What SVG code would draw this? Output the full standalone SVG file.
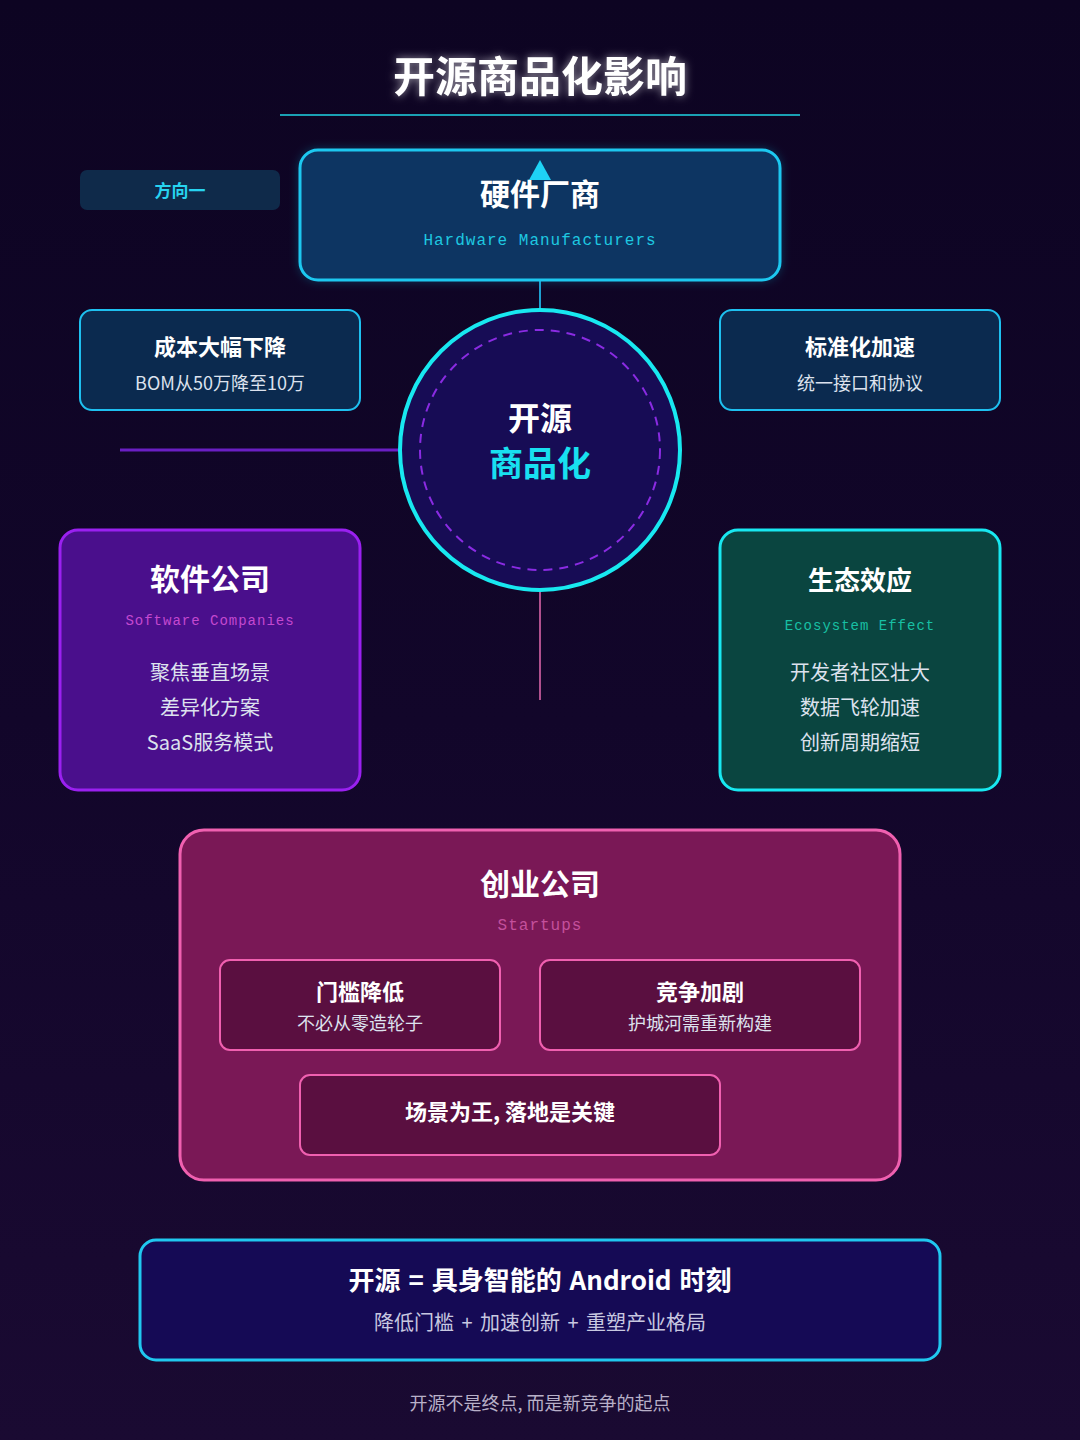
<svg xmlns="http://www.w3.org/2000/svg" width="1080" height="1440" viewBox="0 0 1080 1440">
<defs>
<linearGradient id="bg" x1="0" y1="0" x2="0" y2="1">
<stop offset="0" stop-color="#0d0422"/>
<stop offset="0.5" stop-color="#12062a"/>
<stop offset="1" stop-color="#1a0a32"/>
</linearGradient>
<filter id="glow" x="-20%" y="-50%" width="140%" height="200%">
<feGaussianBlur in="SourceAlpha" stdDeviation="4" result="b"/>
<feFlood flood-color="#ffffff" flood-opacity="0.6"/>
<feComposite in2="b" operator="in" result="g"/>
<feMerge><feMergeNode in="g"/><feMergeNode in="SourceGraphic"/></feMerge>
</filter>
<filter id="soft" x="-10%" y="-10%" width="120%" height="120%">
<feGaussianBlur in="SourceAlpha" stdDeviation="5" result="b"/>
<feFlood flood-color="#20c8f0" flood-opacity="0.25"/>
<feComposite in2="b" operator="in" result="g"/>
<feMerge><feMergeNode in="g"/><feMergeNode in="SourceGraphic"/></feMerge>
</filter>
</defs>
<style>
text{font-family:"Noto Sans CJK SC","Noto Sans",sans-serif;text-anchor:middle}
.h{font-weight:700;fill:#ffffff}
.mono{font-family:"Liberation Mono","DejaVu Sans Mono",monospace;letter-spacing:1px}
.body{fill:#dde2ee}
</style>
<rect width="1080" height="1440" fill="url(#bg)"/>

<g id="title">
<text x="540" y="92" class="h" font-size="42" filter="url(#glow)">开源商品化影响</text>
<line x1="280" y1="115" x2="800" y2="115" stroke="#1aa0b4" stroke-width="2"/>
</g>

<g id="connectors">
<line x1="540" y1="310" x2="540" y2="178" stroke="#1e9fd0" stroke-width="2"/>
<line x1="120" y1="450" x2="400" y2="450" stroke="#6a1fc4" stroke-width="3"/>
<line x1="540" y1="590" x2="540" y2="700" stroke="#b0508e" stroke-width="2"/>
</g>

<g id="direction">
<rect x="80" y="170" width="200" height="40" rx="7" fill="#0f2a4a"/>
<text x="180" y="197" font-size="17" fill="#27d3f0" font-weight="700">方向一</text>
</g>

<g id="hardware">
<rect x="300" y="150" width="480" height="130" rx="18" fill="#0a3462" stroke="#1ec8f0" stroke-width="3" filter="url(#soft)"/>
<text x="540" y="205" class="h" font-size="30">硬件厂商</text>
<text x="540" y="245" class="mono" font-size="16" fill="#1ec8e0">Hardware Manufacturers</text>
</g>

<g id="arrowhead">
<polygon points="540,160 529,180 551,180" fill="#1ed3f5"/>
</g>

<g id="center">
<circle cx="540" cy="450" r="140" fill="#170c55" stroke="#18e8f0" stroke-width="4"/>
<circle cx="540" cy="450" r="120" fill="none" stroke="#8a2be2" stroke-width="2" stroke-dasharray="9 7"/>
<text x="540" y="430" class="h" font-size="32">开源</text>
<text x="540" y="476" font-size="34" font-weight="700" fill="#18e0f0">商品化</text>
</g>

<g id="cost">
<rect x="80" y="310" width="280" height="100" rx="12" fill="#0b2a4f" stroke="#1ec0f0" stroke-width="2"/>
<text x="220" y="355" class="h" font-size="22">成本大幅下降</text>
<text x="220" y="390" class="body" font-size="18">BOM从50万降至10万</text>
</g>

<g id="standard">
<rect x="720" y="310" width="280" height="100" rx="12" fill="#0b2a4f" stroke="#1ec0f0" stroke-width="2"/>
<text x="860" y="355" class="h" font-size="22">标准化加速</text>
<text x="860" y="390" class="body" font-size="18">统一接口和协议</text>
</g>

<g id="software">
<rect x="60" y="530" width="300" height="260" rx="18" fill="#4a0f8c" stroke="#9a20f0" stroke-width="3"/>
<text x="210" y="590" class="h" font-size="30">软件公司</text>
<text x="210" y="625" class="mono" font-size="14" fill="#c448d0">Software Companies</text>
<text x="210" y="680" class="body" font-size="20">聚焦垂直场景</text>
<text x="210" y="715" class="body" font-size="20">差异化方案</text>
<text x="210" y="750" class="body" font-size="20">SaaS服务模式</text>
</g>

<g id="ecosystem">
<rect x="720" y="530" width="280" height="260" rx="18" fill="#0a4540" stroke="#18e8f0" stroke-width="3"/>
<text x="860" y="590" class="h" font-size="26">生态效应</text>
<text x="860" y="630" class="mono" font-size="14" fill="#18c0a4">Ecosystem Effect</text>
<text x="860" y="680" class="body" font-size="20">开发者社区壮大</text>
<text x="860" y="715" class="body" font-size="20">数据飞轮加速</text>
<text x="860" y="750" class="body" font-size="20">创新周期缩短</text>
</g>

<g id="startups">
<rect x="180" y="830" width="720" height="350" rx="24" fill="#7a1856" stroke="#f060b0" stroke-width="3"/>
<text x="540" y="895" class="h" font-size="30">创业公司</text>
<text x="540" y="930" class="mono" font-size="16" fill="#c4509c">Startups</text>
</g>

<g id="threshold">
<rect x="220" y="960" width="280" height="90" rx="10" fill="#5a0f40" stroke="#f060b0" stroke-width="2"/>
<text x="360" y="1000" class="h" font-size="22">门槛降低</text>
<text x="360" y="1030" class="body" font-size="18">不必从零造轮子</text>
</g>

<g id="competition">
<rect x="540" y="960" width="320" height="90" rx="10" fill="#5a0f40" stroke="#f060b0" stroke-width="2"/>
<text x="700" y="1000" class="h" font-size="22">竞争加剧</text>
<text x="700" y="1030" class="body" font-size="18">护城河需重新构建</text>
</g>

<g id="scenario">
<rect x="300" y="1075" width="420" height="80" rx="10" fill="#5a0f40" stroke="#f060b0" stroke-width="2"/>
<text x="510" y="1120" class="h" font-size="22">场景为王, 落地是关键</text>
</g>

<g id="summary">
<rect x="140" y="1240" width="800" height="120" rx="16" fill="#150a55" stroke="#20c8f0" stroke-width="3"/>
<text x="540" y="1290" class="h" font-size="26" word-spacing="2">开源 = 具身智能的 Android 时刻</text>
<text x="540" y="1330" font-size="20" fill="#c8c8e0" word-spacing="3">降低门槛 + 加速创新 + 重塑产业格局</text>
</g>

<g id="footer">
<text x="540" y="1410" font-size="18" fill="#b8b0c8">开源不是终点, 而是新竞争的起点</text>
</g>
</svg>
